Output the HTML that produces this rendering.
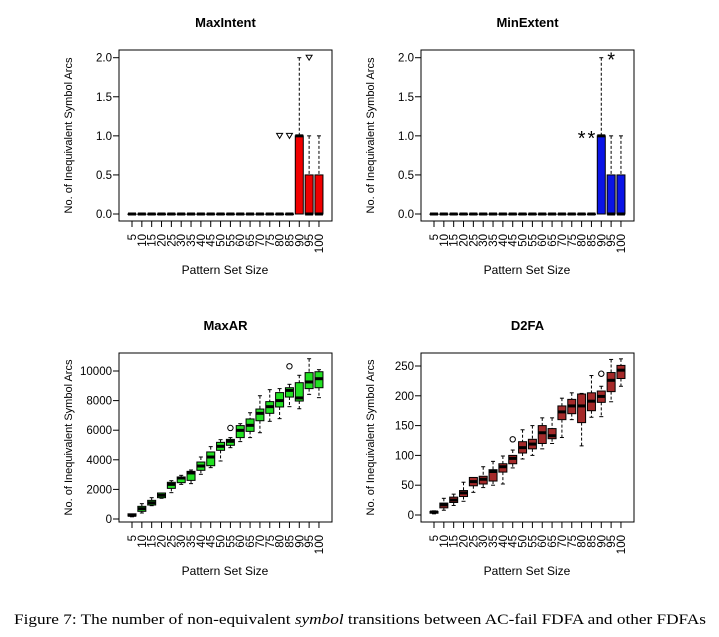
<!DOCTYPE html>
<html><head><meta charset="utf-8"><style>
html,body{margin:0;padding:0;background:#fff;}
svg{display:block;font-family:"Liberation Sans",Arial,sans-serif;}
</style></head><body>
<svg id="fig" width="719" height="637" viewBox="0 0 719 637" xmlns="http://www.w3.org/2000/svg">
<text x="14" y="624" font-family="Liberation Serif, serif" font-size="15" textLength="692" lengthAdjust="spacingAndGlyphs">Figure 7: The number of non-equivalent <tspan font-style="italic">symbol</tspan> transitions between AC-fail FDFA and other FDFAs</text>
</svg>
<script>
const categories = [5,10,15,20,25,30,35,40,45,50,55,60,65,70,75,80,85,90,95,100];
// MaxIntent / MinExtent
const miMin = [0,0,0,0,0,0,0,0,0,0,0,0,0,0,0,0,0,0,0,0];
const miQ1  = [0,0,0,0,0,0,0,0,0,0,0,0,0,0,0,0,0,0,0,0];
const miMed = [0,0,0,0,0,0,0,0,0,0,0,0,0,0,0,0,0,1,0,0];
const miQ3  = [0,0,0,0,0,0,0,0,0,0,0,0,0,0,0,0,0,1,0.5,0.5];
const miMax = [0,0,0,0,0,0,0,0,0,0,0,0,0,0,0,0,0,2,1,1];
const miOut = [[],[],[],[],[],[],[],[],[],[],[],[],[],[],[],[1],[1],[],[2],[]];
const meOut = [[],[],[],[],[],[],[],[],[],[],[],[],[],[],[],[1],[1],[],[2],[]];
// MaxAR
const arMin = [150,405,900,1400,1780,2340,2390,3020,3470,3920,4820,5230,5500,5830,6600,6780,7590,7450,8420,8200];
const arQ1  = [200,518,945,1440,2070,2455,2610,3290,3600,4640,4980,5500,5920,6640,7140,7570,8240,7970,8810,8870];
const arMed = [250,698,1100,1600,2340,2770,3110,3580,4190,4910,5250,5990,6330,7140,7590,8000,8690,8180,9260,9480];
const arQ3  = [350,856,1260,1757,2480,2840,3220,3850,4530,5180,5380,6310,6760,7430,7930,8540,8870,9210,9890,9950];
const arMax = [350,1036,1440,1780,2590,2950,3310,4190,4890,5360,5500,6440,7180,8330,8740,8810,9100,9710,10830,10090];
const arOut = [[],[],[],[],[],[],[],[],[],[],[6150],[],[],[],[],[],[10320],[],[],[]];
// D2FA
const dfMin = [2,8,16,23,38,46,50,52,79,94,100,111,120,130,160,116,164,165,190,216];
const dfQ1  = [3,12,21,31,49,52,57,72,86,104,111,120,128,160,170,155,175,189,207,229];
const dfMed = [5,17,25,37,56,60,73,81,95,113,119,138,133,173,183,183,191,199,226,243];
const dfQ3  = [6,20,30,41,63,65,76,86,100,123,127,150,145,183,194,203,205,208,239,251];
const dfMax = [7,28,35,55,63,81,90,99,109,143,150,163,163,196,205,204,234,216,261,262];
const dfOut = [[],[],[],[],[],[],[],[],[127],[],[],[],[],[],[],[],[],[237],[],[]];
const ticksSmall = [0,0.5,1,1.5,2];
const tickLabSmall = ["0.0","0.5","1.0","1.5","2.0"];
const ticksAR = [0,2000,4000,6000,8000,10000];
const ticksDF = [0,50,100,150,200,250];

const NS="http://www.w3.org/2000/svg";
const svg=document.getElementById('fig');
function mk(tag,attrs,parent,txt){const e=document.createElementNS(NS,tag);for(const k in attrs)e.setAttribute(k,attrs[k]);if(txt!==undefined)e.textContent=txt;(parent||svg).appendChild(e);return e;}

function panel(p){
  const g=mk('g',{});
  
  
  const ys=v=>p.y0+(v-p.v0)*(p.y1-p.y0)/(p.v1-p.v0);
  const xs=i=>p.bx+13+i*9.84;
  const t=mk('text',{x:(p.bx+p.bx+213)/2,y:p.top-23,'text-anchor':'middle','font-weight':'bold','font-size':13},g,p.title);
  
  
  const box=mk('rect',{x:p.bx,y:p.top,width:213,height:p.bot-p.top,fill:'none',stroke:'#000','stroke-width':1},g);
  
  
  p.yt.forEach((v,k)=>{
    const y=ys(v);
    mk('line',{x1:p.bx-6,x2:p.bx,y1:y,y2:y,stroke:'#000'},g);
    const l=mk('text',{x:p.bx-7,y:y+4,'text-anchor':'end','font-size':11.5},g,p.yl?p.yl[k]:String(v));
    
    
  });
  const yc=(p.top+p.bot)/2;
  const yt=mk('text',{x:p.bx-47,y:yc,'text-anchor':'middle','font-size':11,transform:`rotate(-90 ${p.bx-47} ${yc})`},g,'No. of Inequivalent Symbol Arcs');
  
  
  categories.forEach((c,i)=>{
    const x=xs(i);
    mk('line',{x1:x,x2:x,y1:p.bot,y2:p.bot+6,stroke:'#000'},g);
    const l=mk('text',{x:x+4,y:p.bot+13,'text-anchor':'end','font-size':11.5,transform:`rotate(-90 ${x+4} ${p.bot+13})`},g,String(c));
    
    
  });
  const xt=mk('text',{x:p.bx+106,y:p.bot+53,'text-anchor':'middle','font-size':12},g,'Pattern Set Size');
  
  
  categories.forEach((c,i)=>{
    const x=xs(i),hw=4;
    const bg=mk('g',{},g);
    
    
    const q1=ys(p.q1[i]),q3=ys(p.q3[i]),md=ys(p.med[i]),mn=ys(p.min[i]),mx=ys(p.max[i]);
    if(mx<q3-0.5){mk('line',{x1:x,x2:x,y1:mx,y2:q3,stroke:'#000','stroke-dasharray':'3,2'},bg);mk('line',{x1:x-2,x2:x+2,y1:mx,y2:mx,stroke:'#000'},bg);}
    if(mn>q1+0.5){mk('line',{x1:x,x2:x,y1:q1,y2:mn,stroke:'#000','stroke-dasharray':'3,2'},bg);mk('line',{x1:x-2,x2:x+2,y1:mn,y2:mn,stroke:'#000'},bg);}
    mk('rect',{x:x-hw,y:Math.min(q1,q3),width:hw*2,height:Math.max(0.5,Math.abs(q1-q3)),fill:p.color,stroke:'#000','stroke-width':1},bg);
    mk('line',{x1:x-hw,x2:x+hw,y1:md,y2:md,stroke:'#000','stroke-width':3},bg);
    p.out[i].forEach(v=>{
      const y=ys(v);
      let o;
      if(p.sym==='tri') o=mk('path',{d:`M${x-3},${y-2.5} L${x+3},${y-2.5} L${x},${y+2.5} Z`,fill:'none',stroke:'#000'},bg);
      else if(p.sym==='star') o=mk('text',{x:x,y:y+9,'text-anchor':'middle','font-size':20},bg,'*');
      else o=mk('circle',{cx:x,cy:y,r:2.7,fill:'none',stroke:'#000'},bg);
      
      
    });
  });
}
panel({name:'maxintent-panel',title:'MaxIntent',bx:119,top:50,bot:221,y0:214,y1:57.7,v0:0,v1:2,yt:ticksSmall,yl:tickLabSmall,min:miMin,q1:miQ1,med:miMed,q3:miQ3,max:miMax,out:miOut,color:'#f00000',sym:'tri'});
panel({name:'minextent-panel',title:'MinExtent',bx:421,top:50,bot:221,y0:214,y1:57.7,v0:0,v1:2,yt:ticksSmall,yl:tickLabSmall,min:miMin,q1:miQ1,med:miMed,q3:miQ3,max:miMax,out:meOut,color:'#0a14e6',sym:'star'});
panel({name:'maxar-panel',title:'MaxAR',bx:119,top:353,bot:522,y0:519,y1:371,v0:0,v1:10000,yt:ticksAR,min:arMin,q1:arQ1,med:arMed,q3:arQ3,max:arMax,out:arOut,color:'#22e022',sym:'circle'});
panel({name:'d2fa-panel',title:'D2FA',bx:421,top:353,bot:522,y0:515,y1:366,v0:0,v1:250,yt:ticksDF,min:dfMin,q1:dfQ1,med:dfMed,q3:dfQ3,max:dfMax,out:dfOut,color:'#a52a2a',sym:'circle'});
</script>
</body></html>
